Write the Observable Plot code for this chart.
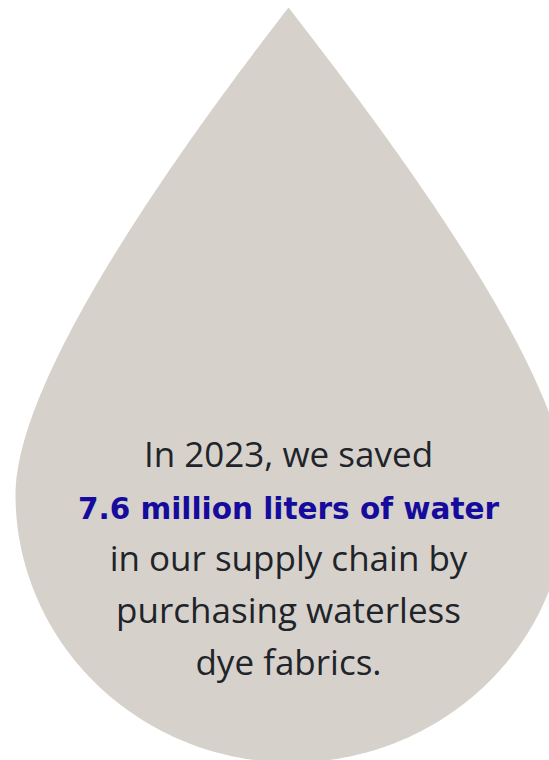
<!DOCTYPE html>
<html>
<head>
<meta charset="utf-8">
<script src="https://cdn.jsdelivr.net/npm/d3@7"></script>
<script src="https://cdn.jsdelivr.net/npm/@observablehq/plot@0.6"></script>
<style>
  html, body { margin: 0; padding: 0; background: #ffffff; }
  #chart svg { display: block; }
</style>
</head>
<body>
<div id="chart"></div>
<script>
// ---- Text content (data) ----
const textLines = [
  "In 2023, we saved",
  "7.6 million liters of water",
  "in our supply chain by",
  "purchasing waterless",
  "dye fabrics."
];
const lineEmphasis = ["regular", "highlight", "regular", "regular", "regular"];

// ---- Layout / style constants ----
const W = 549, H = 760;
// left and right flanks: cubic Bezier control points (tip -> c1 -> c2 -> widest point)
const leftFlank = [[288, 7], [203, 117], [15, 369], [15, 494]];
const rightFlank = [[288, 7], [373, 117], [567, 369], [567, 494]];
const dropBody = {cx: 291, cy: 494, rx: 276, ry: 268};
const dropColor = "#d6d2cb";
const textColor = "#1f242a";
const highlightColor = "#150b9c";
const textCenterX = 288;
const firstBaseline = 466;
const lineStep = 52;
const regularSize = 35, highlightSize = 29.5;

// ---- Build the drop outline ----
function bezier(p, t) {
  const u = 1 - t;
  const a = u * u * u, b = 3 * u * u * t, c = 3 * u * t * t, d = t * t * t;
  return {x: a * p[0][0] + b * p[1][0] + c * p[2][0] + d * p[3][0],
          y: a * p[0][1] + b * p[1][1] + c * p[2][1] + d * p[3][1]};
}
function dropOutline() {
  const pts = [];
  const n = 120;
  for (let i = 0; i <= n; i++) pts.push(bezier(rightFlank, i / n));
  const {cx, cy, rx, ry} = dropBody;
  for (let i = 1; i < 240; i++) {
    const t = Math.PI * i / 240;
    pts.push({x: cx + rx * Math.cos(t), y: cy + ry * Math.sin(t)});
  }
  for (let i = n; i >= 0; i--) pts.push(bezier(leftFlank, i / n));
  return pts;
}

const lines = textLines.map((text, i) => ({text, kind: lineEmphasis[i], i}));

const chart = Plot.plot({
  width: W,
  height: H,
  margin: 0,
  x: {domain: [0, W], range: [0, W], axis: null},
  y: {domain: [0, H], range: [0, H], axis: null},
  style: {background: "#ffffff"},
  marks: [
    Plot.line(dropOutline(), {x: "x", y: "y", fill: dropColor, stroke: "none", curve: "linear"}),
    Plot.text(lines.filter(d => d.kind === "regular"), {
      x: () => textCenterX,
      y: d => firstBaseline + d.i * lineStep - 0.32 * regularSize,
      text: "text",
      textAnchor: "middle",
      lineAnchor: "middle",
      fontSize: regularSize,
      fontFamily: "'Open Sans', 'Liberation Sans', sans-serif",
      fontWeight: 400,
      fill: textColor
    }),
    Plot.text(lines.filter(d => d.kind === "highlight"), {
      x: () => textCenterX,
      y: d => firstBaseline + d.i * lineStep - 0.32 * highlightSize,
      text: "text",
      textAnchor: "middle",
      lineAnchor: "middle",
      fontSize: highlightSize,
      fontFamily: "'DejaVu Sans', sans-serif",
      fontWeight: "bold",
      fill: highlightColor
    })
  ]
});
document.getElementById("chart").appendChild(chart);
</script>
</body>
</html>
